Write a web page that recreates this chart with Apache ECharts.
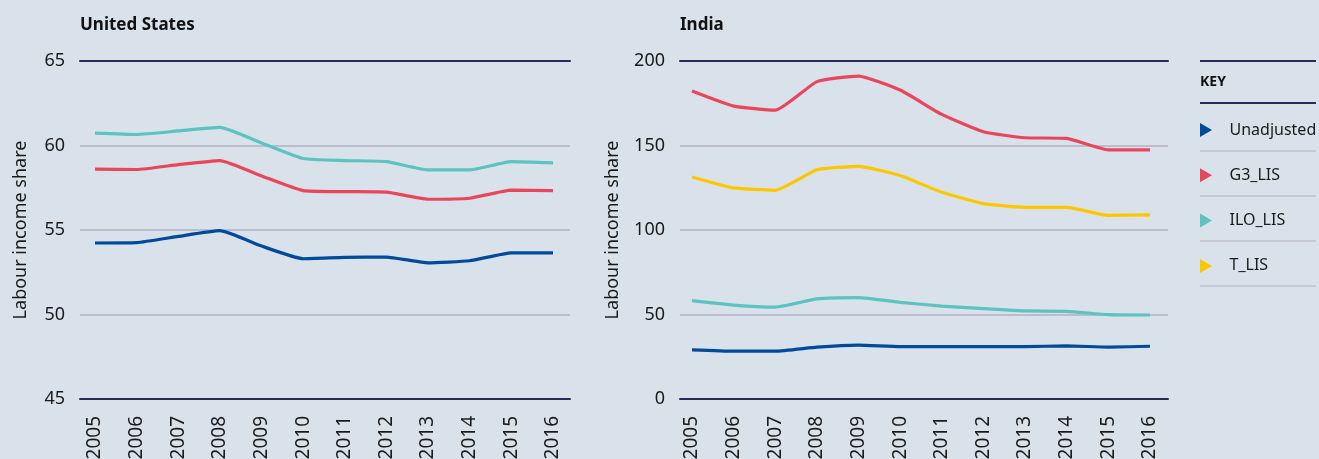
<!DOCTYPE html>
<html>
<head>
<meta charset="utf-8">
<script src="https://cdn.jsdelivr.net/npm/echarts@6/dist/echarts.min.js"></script>
<style>
html,body{margin:0;padding:0;background:#d9e1ea;}
#c{width:1319px;height:459px;}
</style>
</head>
<body>
<div id="c"></div>
<script>
const years = ['2005','2006','2007','2008','2009','2010','2011','2012','2013','2014','2015','2016'];
const seriesNames = ['Unadjusted','G3_LIS','ILO_LIS','T_LIS'];
const usUnadjusted = [54.23,54.25,54.62,54.96,54.05,53.30,53.38,53.40,53.06,53.18,53.65,53.65];
const usG3 = [58.60,58.58,58.87,59.11,58.20,57.33,57.27,57.24,56.82,56.88,57.36,57.33];
const usILO = [60.73,60.65,60.86,61.07,60.15,59.23,59.11,59.05,58.56,58.56,59.05,58.97];
const inUnadjusted = [29.1,28.3,28.3,30.7,31.9,31.0,31.0,31.0,31.0,31.4,30.7,31.2];
const inG3 = [182.2,173.3,170.9,187.8,191.1,182.8,168.4,158.1,154.6,154.2,147.4,147.4];
const inILO = [58.2,55.6,54.4,59.2,60.0,57.2,55.0,53.5,52.1,51.9,49.9,49.7];
const inT = [131.4,124.9,123.5,135.6,137.7,132.2,122.3,115.6,113.4,113.4,108.7,108.9];
const usTicks = {min:45,max:65,interval:5};
const inTicks = {min:0,max:200,interval:50};
const panelTitles = ['United States','India'];
const yAxisTitle = 'Labour income share';
const keyTitle = 'KEY';

const colors = {Unadjusted:'#004a9c', G3_LIS:'#e8475b', ILO_LIS:'#5bc3c0', T_LIS:'#fdc700'};
const FONT = '"Noto Sans", "DejaVu Sans", sans-serif';
const dark = '#2a2959';
const light = '#b3afc6';
const H = 459, W = 1319;

const gridBase = {top:61,bottom:H-399,outerBoundsMode:'none',containLabel:false};
const bgGrids = [{...gridBase,left:80,right:W-570},{...gridBase,left:680,right:W-1168}];
const dataGrids = [{...gridBase,left:95,right:W-553},{...gridBase,left:692,right:W-1150}];

const grid = [...bgGrids, ...dataGrids];
const xAxis = [], yAxis = [];
const ticks = [usTicks, inTicks];
[0,1].forEach(i=>{
  xAxis.push({gridIndex:i,type:'value',min:0,max:1,position:'bottom',axisLine:{show:true,onZero:false,lineStyle:{color:dark,width:2}},axisTick:{show:false},axisLabel:{show:false},splitLine:{show:false}});
  xAxis.push({gridIndex:i,type:'value',min:0,max:1,position:'top',axisLine:{show:true,onZero:false,lineStyle:{color:dark,width:2}},axisTick:{show:false},axisLabel:{show:false},splitLine:{show:false}});
  yAxis.push({gridIndex:i,type:'value',min:ticks[i].min,max:ticks[i].max,interval:ticks[i].interval,
    axisLine:{show:false},axisTick:{show:false},
    axisLabel:{color:'#1a1a1a',fontSize:18,fontFamily:FONT,margin:15},
    splitLine:{show:true,lineStyle:{color:light,width:1.5}},
    name:yAxisTitle,nameLocation:'middle',nameGap:i===0?50:58,
    nameTextStyle:{color:'#1a1a1a',fontSize:18,fontFamily:FONT}});
});
[2,3].forEach((g,k)=>{
  xAxis.push({gridIndex:g,type:'category',data:years,boundaryGap:false,
    axisLine:{show:false},axisTick:{show:false},
    axisLabel:{rotate:90,color:'#1a1a1a',fontSize:19,fontFamily:FONT,margin:17,interval:0},
    splitLine:{show:false}});
  yAxis.push({gridIndex:g,type:'value',min:ticks[k].min,max:ticks[k].max,interval:ticks[k].interval,show:false,splitLine:{show:false}});
});

function line(name,data,xi,yi){
  return {name,type:'line',data,xAxisIndex:xi,yAxisIndex:yi,symbol:'none',smooth:0.15,
    lineStyle:{color:colors[name],width:3.2},itemStyle:{color:colors[name]}};
}
const series = [
  line('Unadjusted',usUnadjusted,4,2),
  line('G3_LIS',usG3,4,2),
  line('ILO_LIS',usILO,4,2),
  line('Unadjusted',inUnadjusted,5,3),
  line('G3_LIS',inG3,5,3),
  line('ILO_LIS',inILO,5,3),
  line('T_LIS',inT,5,3)
];

const tri = 'path://M0,0 L12,7 L0,14 Z';
const sepY = [151,196,241,286];
const graphic = [
  {type:'line',shape:{x1:1200,y1:61,x2:1316,y2:61},style:{stroke:dark,lineWidth:2}},
  {type:'line',shape:{x1:1200,y1:103,x2:1316,y2:103},style:{stroke:dark,lineWidth:2}},
  {type:'text',left:1200,top:75,style:{text:keyTitle,font:'bold 14px '+FONT,fill:'#111'}},
  ...sepY.map(y=>({type:'line',shape:{x1:1200,y1:y,x2:1316,y2:y},style:{stroke:light,lineWidth:1.2}}))
];

const chart = echarts.init(document.getElementById('c'));
chart.setOption({
  backgroundColor:'#d9e1ea',
  animation:false,
  title:[
    {text:panelTitles[0],left:80,top:17,padding:0,textStyle:{fontFamily:FONT,fontSize:17,fontWeight:'bold',color:'#111'}},
    {text:panelTitles[1],left:680,top:17,padding:0,textStyle:{fontFamily:FONT,fontSize:17,fontWeight:'bold',color:'#111'}}
  ],
  legend:{orient:'vertical',left:1200,top:120,padding:0,itemGap:25.3,itemWidth:13,itemHeight:14,icon:tri,
    data:seriesNames.map(n=>({name:n,itemStyle:{color:colors[n]}})),
    textStyle:{fontFamily:FONT,fontSize:16,color:'#1a1a1a',lineHeight:20,padding:[0,0,0,12]},selectedMode:false},
  grid,xAxis,yAxis,series,graphic
});
</script>
</body>
</html>
